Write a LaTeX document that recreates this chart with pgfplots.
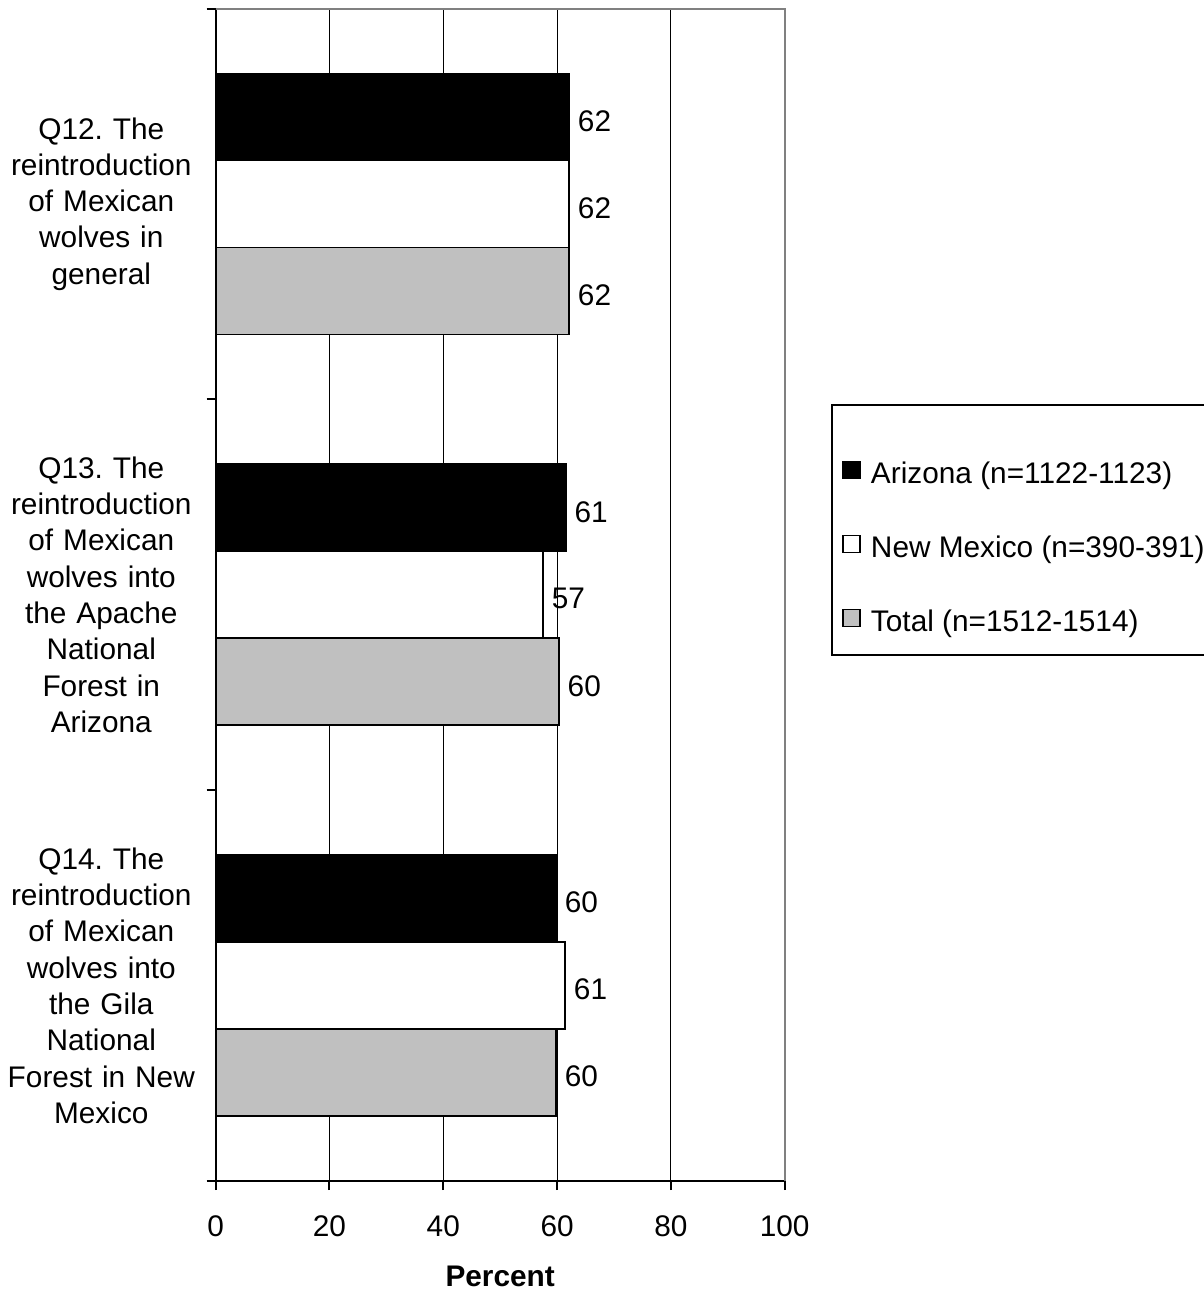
\documentclass[border=0pt]{standalone}
\usepackage{pgfplots}
\pgfplotsset{compat=1.18}
\usepackage{fontspec}
\setmainfont{Liberation Sans}
\definecolor{silver}{RGB}{192,192,192}
\newcommand{\f}{\fontsize{14.9}{18.15}\selectfont\frenchspacing}
\begin{document}
\begin{tikzpicture}
\useasboundingbox (-107.85pt,-55pt) rectangle (494.15pt,590.5pt);
\begin{axis}[
  at={(0,0)}, anchor=south west,
  scale only axis, width=284.5pt, height=586.25pt,
  xbar, bar width=0.2226,
  xmin=0, xmax=100, ymin=-0.5, ymax=2.5, y dir=reverse,
  clip=false,
  xtick={0,20,40,60,80,100},
  ytick={0,1,2},
  yticklabels={{Q12. The\\reintroduction\\of Mexican\\wolves in\\general},
               {Q13. The\\reintroduction\\of Mexican\\wolves into\\the Apache\\National\\Forest in\\Arizona},
               {Q14. The\\reintroduction\\of Mexican\\wolves into\\the Gila\\National\\Forest in New\\Mexico}},
  minor ytick={-0.5,0.5,1.5,2.5},
  tick align=outside,
  major tick length=4.5pt, minor tick length=4.5pt,
  major y tick style={draw=none},
  minor y tick style={black, line width=1pt},
  x tick style={black, line width=1pt},
  xmajorgrids, grid style={black, line width=0.5pt},
  axis x line*=bottom, axis y line*=left,
  axis line style={black, line width=1pt, -},
  /pgf/number format/assume math mode=true,
  xticklabel style={font=\f, inner sep=0pt, yshift=-12.8pt},
  yticklabel style={font=\f, align=center, text width=98pt, inner sep=0pt, anchor=east, xshift=-3.5pt},
  xlabel={Percent},
  xlabel style={font=\f\bfseries, at={(axis description cs:0.5,0)}, anchor=center, yshift=-47.5pt},
  point meta=explicit symbolic,
  nodes near coords,
  every node near coord/.append style={font=\f, anchor=west, inner sep=0pt, xshift=4pt, yshift=-2pt, black},
  legend image code/.code={\draw[#1, line width=0.8pt] (0pt,-1.4pt) rectangle (8.5pt,7.1pt);},
  legend cell align=left,
  legend style={draw=none, fill=none, at={(1.1007,0.6147)}, anchor=north west,
    inner sep=0pt, row sep=22.25pt, column sep=5pt, font=\f,
    nodes={inner sep=0pt, text height=11pt, text depth=3.5pt}},
]
\addplot[fill=black, draw=black, line width=0.9pt, bar shift=-0.2226]
  coordinates {(62.1,0) [62] (61.5,1) [61] (59.8,2) [60]};
\addlegendentry{Arizona (n=1122-1123)}
\addplot[fill=white, draw=black, line width=0.9pt, bar shift=0]
  coordinates {(62.1,0) [62] (57.5,1) [57] (61.4,2) [61]};
\addlegendentry{New Mexico (n=390-391)}
\addplot[fill=silver, draw=black, line width=0.9pt, bar shift=0.2226]
  coordinates {(62.1,0) [62] (60.3,1) [60] (59.8,2) [60]};
\addlegendentry{Total (n=1512-1514)}
\draw[gray, line width=1pt] (axis description cs:0,1) -- (axis description cs:1,1) -- (axis description cs:1,0);
\draw[black, line width=1pt] (axis description cs:1.0831,0.6618) rectangle (axis description cs:1.8,0.4486);
\end{axis}
\end{tikzpicture}
\end{document}
